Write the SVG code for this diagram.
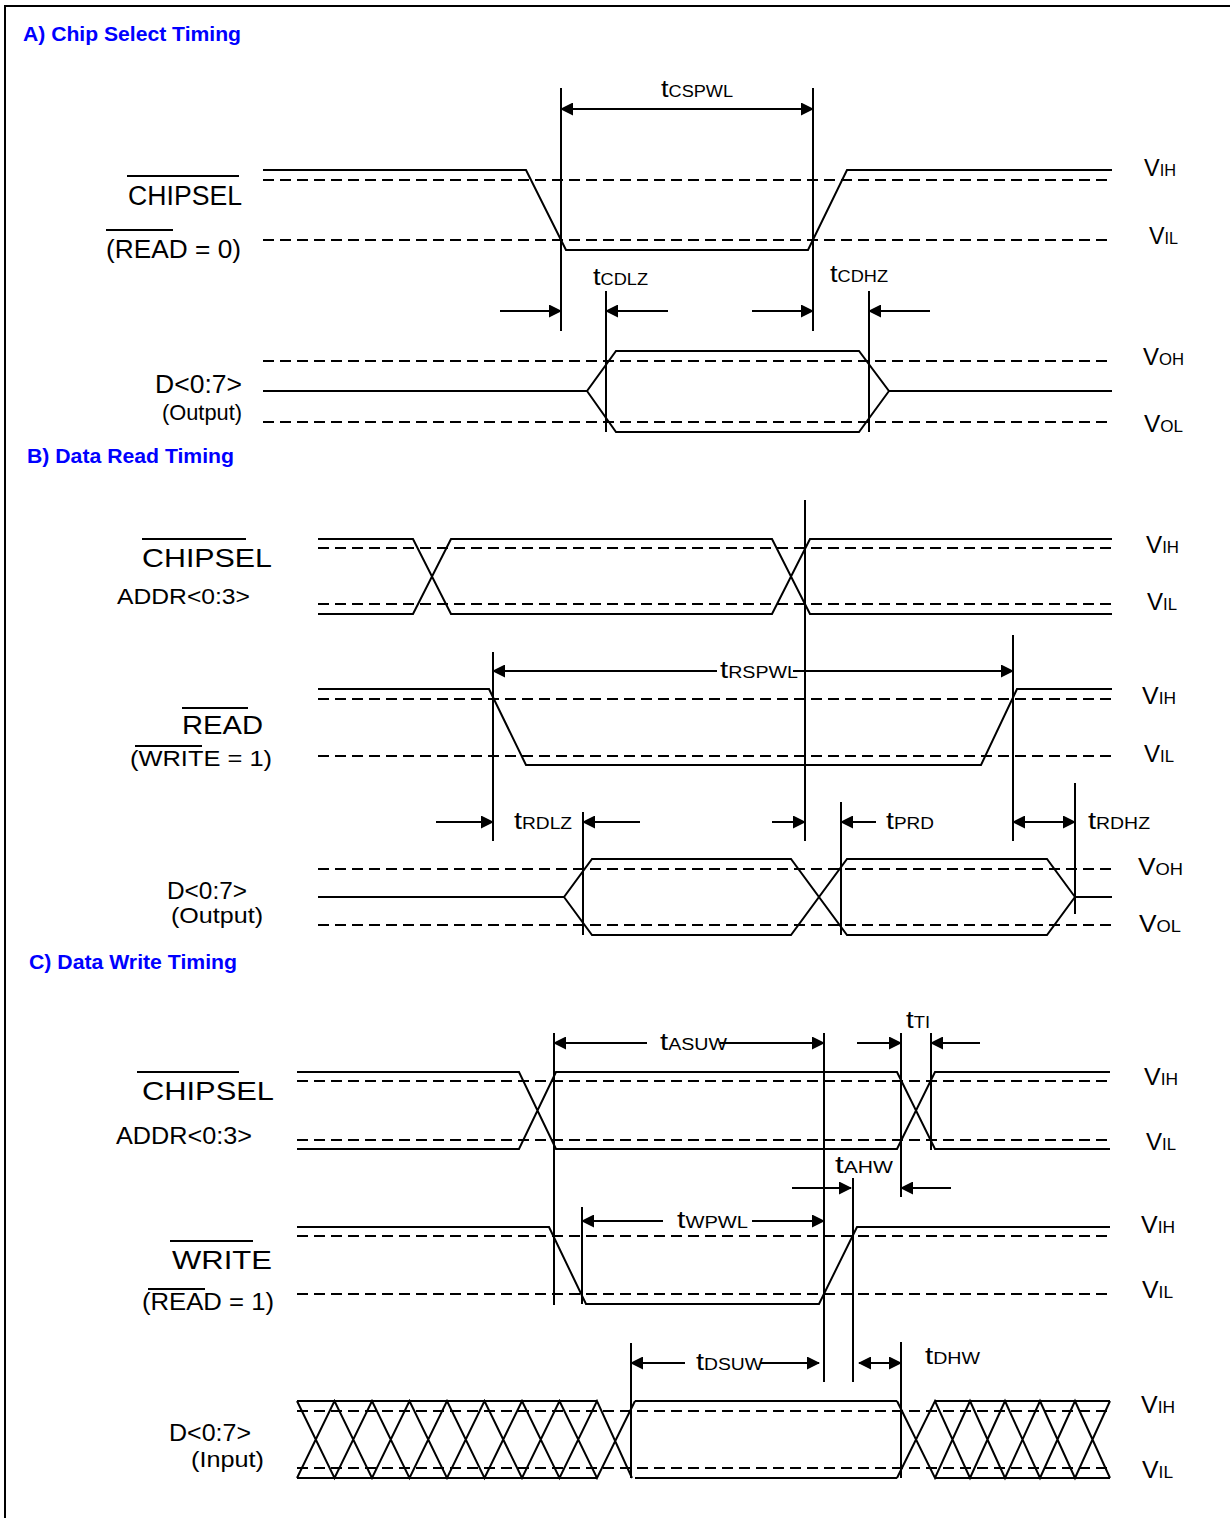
<svg xmlns="http://www.w3.org/2000/svg" width="1230" height="1518" viewBox="0 0 1230 1518">
<style>
text{font-family:"Liberation Sans",Arial,sans-serif;fill:#000}
.title{font-weight:bold;fill:#0000ff;font-size:20px}
.sig{fill:none;stroke:#000;stroke-width:2}
.dash{fill:none;stroke:#000;stroke-width:2;stroke-dasharray:11 6}
.vl{stroke:#000;stroke-width:2}
.ar{stroke:#000;stroke-width:2;fill:none}
.bar{stroke:#000;stroke-width:2}
.v{font-size:23px}
.vs{font-size:16px}
.t{font-size:24px}
.ts{font-size:16px}
</style>
<defs>
<marker id="ah" viewBox="0 0 13 13" refX="12" refY="6.5" markerWidth="13" markerHeight="13" markerUnits="userSpaceOnUse" orient="auto-start-reverse"><path d="M0,0 L13,6.5 L0,13 z" fill="#000"/></marker>
</defs>
<rect x="0" y="0" width="1230" height="1518" fill="#fff"/>
<path d="M5,1518 V6 H1230" fill="none" stroke="#000" stroke-width="2"/>

<!-- Section A -->
<g id="sectionA">
<text class="title" x="23" y="41" textLength="218" lengthAdjust="spacingAndGlyphs">A) Chip Select Timing</text>
<g id="A_chipsel">
<line class="bar" x1="127" y1="176" x2="239" y2="176"/>
<text x="128" y="205" font-size="27" textLength="114" lengthAdjust="spacingAndGlyphs">CHIPSEL</text>
<line class="bar" x1="106" y1="230" x2="173" y2="230"/>
<text x="106" y="258" font-size="26" textLength="135" lengthAdjust="spacingAndGlyphs">(READ = 0)</text>
<path class="dash" d="M263,180 H1112 M263,240 H1112"/>
<path class="sig" d="M263,170 H526 L566,250 H808 L847,170 H1112"/>
<text class="v" x="1144" y="176" textLength="32" lengthAdjust="spacingAndGlyphs">V<tspan class="vs">IH</tspan></text>
<text class="v" x="1149" y="244" textLength="29" lengthAdjust="spacingAndGlyphs">V<tspan class="vs">IL</tspan></text>
</g>
<g id="A_data">
<text x="155" y="393" font-size="25" textLength="87" lengthAdjust="spacingAndGlyphs">D&lt;0:7&gt;</text>
<text x="162" y="420" font-size="22" textLength="80" lengthAdjust="spacingAndGlyphs">(Output)</text>
<path class="dash" d="M263,361 H1112 M263,422 H1112"/>
<path class="sig" d="M263,391 H587 L616,351 H859 L889,391 H1112 M587,391 L616,432 H859 L889,391"/>
<text class="v" x="1143" y="365" textLength="41" lengthAdjust="spacingAndGlyphs">V<tspan class="vs">OH</tspan></text>
<text class="v" x="1144" y="432" textLength="39" lengthAdjust="spacingAndGlyphs">V<tspan class="vs">OL</tspan></text>
</g>
</g>

<!-- Section B -->
<g id="sectionB">
<text class="title" x="27" y="463" textLength="207" lengthAdjust="spacingAndGlyphs">B) Data Read Timing</text>
<g id="B_bus">
<line class="bar" x1="142" y1="539" x2="246" y2="539"/>
<text x="142" y="567" font-size="25" textLength="130" lengthAdjust="spacingAndGlyphs">CHIPSEL</text>
<text x="117" y="604" font-size="22" textLength="133" lengthAdjust="spacingAndGlyphs">ADDR&lt;0:3&gt;</text>
<path class="dash" d="M318,548 H1112 M318,604 H1112"/>
<path class="sig" d="M318,539 H413 L451,614 H772 L810,539 H1112 M318,614 H413 L451,539 H772 L810,614 H1112"/>
<text class="v" x="1146" y="553" textLength="33" lengthAdjust="spacingAndGlyphs">V<tspan class="vs">IH</tspan></text>
<text class="v" x="1147" y="610" textLength="30" lengthAdjust="spacingAndGlyphs">V<tspan class="vs">IL</tspan></text>
</g>
<g id="B_read">
<line class="bar" x1="182" y1="708" x2="248" y2="708"/>
<text x="182" y="734" font-size="25" textLength="81" lengthAdjust="spacingAndGlyphs">READ</text>
<line class="bar" x1="135" y1="746" x2="202" y2="746"/>
<text x="130" y="766" font-size="22" textLength="142" lengthAdjust="spacingAndGlyphs">(WRITE = 1)</text>
<path class="dash" d="M318,699 H1112 M318,756 H1112"/>
<path class="sig" d="M318,689 H489 L526,765 H981 L1017,689 H1112"/>
<text class="v" x="1142" y="704" textLength="34" lengthAdjust="spacingAndGlyphs">V<tspan class="vs">IH</tspan></text>
<text class="v" x="1144" y="762" textLength="30" lengthAdjust="spacingAndGlyphs">V<tspan class="vs">IL</tspan></text>
</g>
<g id="B_data">
<text x="167" y="899" font-size="24" textLength="80" lengthAdjust="spacingAndGlyphs">D&lt;0:7&gt;</text>
<text x="171" y="923" font-size="22" textLength="92" lengthAdjust="spacingAndGlyphs">(Output)</text>
<path class="dash" d="M318,869 H1112 M318,925 H1112"/>
<path class="sig" d="M318,897 H564 L592,859 H791 L847,935 H1047 L1075,897 H1112 M564,897 L592,935 H791 L847,859 H1047 L1075,897"/>
<text class="v" x="1138" y="875" textLength="45" lengthAdjust="spacingAndGlyphs">V<tspan class="vs">OH</tspan></text>
<text class="v" x="1139" y="932" textLength="42" lengthAdjust="spacingAndGlyphs">V<tspan class="vs">OL</tspan></text>
</g>
</g>

<!-- Section C -->
<g id="sectionC">
<text class="title" x="29" y="969" textLength="208" lengthAdjust="spacingAndGlyphs">C) Data Write Timing</text>
<g id="C_bus">
<line class="bar" x1="137" y1="1072" x2="239" y2="1072"/>
<text x="142" y="1100" font-size="26" textLength="132" lengthAdjust="spacingAndGlyphs">CHIPSEL</text>
<text x="116" y="1144" font-size="24" textLength="136" lengthAdjust="spacingAndGlyphs">ADDR&lt;0:3&gt;</text>
<path class="dash" d="M297,1081 H1110 M297,1140 H1110"/>
<path class="sig" d="M297,1072 H519 L556,1149 H897 L935,1072 H1110 M297,1149 H519 L556,1072 H897 L935,1149 H1110"/>
<text class="v" x="1144" y="1085" textLength="34" lengthAdjust="spacingAndGlyphs">V<tspan class="vs">IH</tspan></text>
<text class="v" x="1146" y="1150" textLength="30" lengthAdjust="spacingAndGlyphs">V<tspan class="vs">IL</tspan></text>
</g>
<g id="C_write">
<line class="bar" x1="170" y1="1241" x2="253" y2="1241"/>
<text x="172" y="1269" font-size="26" textLength="100" lengthAdjust="spacingAndGlyphs">WRITE</text>
<line class="bar" x1="148" y1="1289" x2="205" y2="1289"/>
<text x="142" y="1310" font-size="23" textLength="132" lengthAdjust="spacingAndGlyphs">(READ = 1)</text>
<path class="dash" d="M297,1236 H1110 M297,1294 H1110"/>
<path class="sig" d="M297,1227 H549 L586,1304 H819 L857,1227 H1110"/>
<text class="v" x="1141" y="1233" textLength="34" lengthAdjust="spacingAndGlyphs">V<tspan class="vs">IH</tspan></text>
<text class="v" x="1142" y="1298" textLength="31" lengthAdjust="spacingAndGlyphs">V<tspan class="vs">IL</tspan></text>
</g>
<g id="C_data">
<text x="169" y="1441" font-size="24" textLength="82" lengthAdjust="spacingAndGlyphs">D&lt;0:7&gt;</text>
<text x="191" y="1467" font-size="22" textLength="73" lengthAdjust="spacingAndGlyphs">(Input)</text>
<path class="dash" d="M297,1411 H1110 M297,1468 H1110"/>
<path class="sig" d="M297,1401 H597 M297,1478 H597 M635,1401 H897 M635,1478 H897 M935,1401 H1110 M935,1478 H1110"/>
<path class="sig" d="M297,1401 L334.5,1478 L372,1401 L409.5,1478 L447,1401 L484.5,1478 L522,1401 L559.5,1478 L597,1401 L632,1478 M297,1478 L334.5,1401 L372,1478 L409.5,1401 L447,1478 L484.5,1401 L522,1478 L559.5,1401 L597,1478 L635,1401"/>
<path class="sig" d="M897,1401 L935,1478 L970,1401 L1005,1478 L1040,1401 L1075,1478 L1110,1401 M897,1478 L935,1401 L970,1478 L1005,1401 L1040,1478 L1075,1401 L1110,1478"/>
<text class="v" x="1141" y="1413" textLength="34" lengthAdjust="spacingAndGlyphs">V<tspan class="vs">IH</tspan></text>
<text class="v" x="1142" y="1478" textLength="31" lengthAdjust="spacingAndGlyphs">V<tspan class="vs">IL</tspan></text>
</g>
</g>

<!-- Connectors: timing reference lines and dimension arrows -->
<g id="connectors">
<!-- A -->
<path class="vl" d="M561,88 V331 M813,88 V331 M606,291 V432 M869,291 V432"/>
<line class="ar" x1="561" y1="109" x2="813" y2="109" marker-start="url(#ah)" marker-end="url(#ah)"/>
<line class="ar" x1="500" y1="311" x2="561" y2="311" marker-end="url(#ah)"/>
<line class="ar" x1="668" y1="311" x2="606" y2="311" marker-end="url(#ah)"/>
<line class="ar" x1="752" y1="311" x2="813" y2="311" marker-end="url(#ah)"/>
<line class="ar" x1="930" y1="311" x2="869" y2="311" marker-end="url(#ah)"/>
<!-- B -->
<path class="vl" d="M805,500 V841 M493,652 V841 M1013,635 V841 M583,812 V935 M841,802 V935 M1075,783 V914"/>
<line class="ar" x1="717" y1="671" x2="493" y2="671" marker-end="url(#ah)"/>
<line class="ar" x1="793" y1="671" x2="1013" y2="671" marker-end="url(#ah)"/>
<line class="ar" x1="436" y1="822" x2="493" y2="822" marker-end="url(#ah)"/>
<line class="ar" x1="640" y1="822" x2="583" y2="822" marker-end="url(#ah)"/>
<line class="ar" x1="772" y1="822" x2="805" y2="822" marker-end="url(#ah)"/>
<line class="ar" x1="876" y1="822" x2="841" y2="822" marker-end="url(#ah)"/>
<line class="ar" x1="1013" y1="822" x2="1075" y2="822" marker-start="url(#ah)" marker-end="url(#ah)"/>
<!-- C -->
<path class="vl" d="M554,1033 V1305 M824,1033 V1382 M901,1033 V1197 M931,1033 V1150 M853,1178 V1382 M582,1207 V1304 M631,1343 V1478 M901,1342 V1478"/>
<line class="ar" x1="647" y1="1043" x2="554" y2="1043" marker-end="url(#ah)"/>
<line class="ar" x1="720" y1="1043" x2="824" y2="1043" marker-end="url(#ah)"/>
<line class="ar" x1="857" y1="1043" x2="901" y2="1043" marker-end="url(#ah)"/>
<line class="ar" x1="980" y1="1043" x2="931" y2="1043" marker-end="url(#ah)"/>
<line class="ar" x1="792" y1="1188" x2="851" y2="1188" marker-end="url(#ah)"/>
<line class="ar" x1="951" y1="1188" x2="901" y2="1188" marker-end="url(#ah)"/>
<line class="ar" x1="663" y1="1221" x2="582" y2="1221" marker-end="url(#ah)"/>
<line class="ar" x1="752" y1="1221" x2="824" y2="1221" marker-end="url(#ah)"/>
<line class="ar" x1="685" y1="1363" x2="631" y2="1363" marker-end="url(#ah)"/>
<line class="ar" x1="760" y1="1363" x2="819" y2="1363" marker-end="url(#ah)"/>
<line class="ar" x1="859" y1="1363" x2="901" y2="1363" marker-start="url(#ah)" marker-end="url(#ah)"/>
</g>

<!-- Timing labels -->
<g id="labels">
<text class="t" x="661" y="97" textLength="72" lengthAdjust="spacingAndGlyphs">t<tspan class="ts">CSPWL</tspan></text>
<text class="t" x="593" y="285" textLength="55" lengthAdjust="spacingAndGlyphs">t<tspan class="ts">CDLZ</tspan></text>
<text class="t" x="830" y="282" textLength="58" lengthAdjust="spacingAndGlyphs">t<tspan class="ts">CDHZ</tspan></text>
<text class="t" x="720" y="678" textLength="78" lengthAdjust="spacingAndGlyphs">t<tspan class="ts">RSPWL</tspan></text>
<text class="t" x="514" y="829" textLength="58" lengthAdjust="spacingAndGlyphs">t<tspan class="ts">RDLZ</tspan></text>
<text class="t" x="886" y="829" textLength="48" lengthAdjust="spacingAndGlyphs">t<tspan class="ts">PRD</tspan></text>
<text class="t" x="1088" y="829" textLength="62" lengthAdjust="spacingAndGlyphs">t<tspan class="ts">RDHZ</tspan></text>
<text class="t" x="660" y="1050" textLength="67" lengthAdjust="spacingAndGlyphs">t<tspan class="ts">ASUW</tspan></text>
<text class="t" x="906" y="1028" textLength="24" lengthAdjust="spacingAndGlyphs">t<tspan class="ts">TI</tspan></text>
<text class="t" x="835" y="1173" textLength="58" lengthAdjust="spacingAndGlyphs">t<tspan class="ts">AHW</tspan></text>
<text class="t" x="677" y="1228" textLength="71" lengthAdjust="spacingAndGlyphs">t<tspan class="ts">WPWL</tspan></text>
<text class="t" x="696" y="1370" textLength="67" lengthAdjust="spacingAndGlyphs">t<tspan class="ts">DSUW</tspan></text>
<text class="t" x="925" y="1364" textLength="55" lengthAdjust="spacingAndGlyphs">t<tspan class="ts">DHW</tspan></text>
</g>
</svg>
